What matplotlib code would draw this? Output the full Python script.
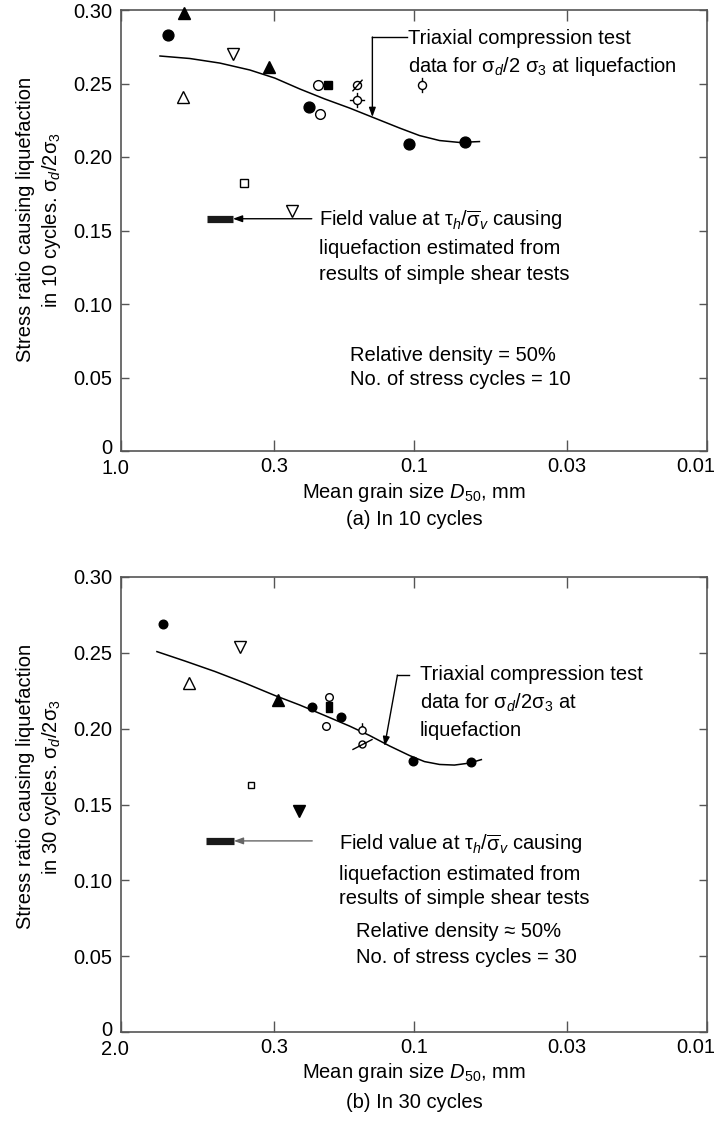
import matplotlib
matplotlib.use('Agg')
import matplotlib.pyplot as plt
from matplotlib.path import Path
from matplotlib.ticker import NullLocator
from matplotlib.transforms import ScaledTranslation

plt.rcParams['font.family'] = ['Liberation Sans', 'DejaVu Sans']
plt.rcParams['mathtext.fontset'] = 'custom'
plt.rcParams['mathtext.rm'] = 'Liberation Sans'
plt.rcParams['mathtext.it'] = 'Liberation Sans:italic'
plt.rcParams['mathtext.bf'] = 'Liberation Sans:bold'
FS = 14.5

# ---------------- data: panel (a) 10 cycles ----------------
a_curve_x = [0.736, 0.582, 0.460, 0.3635, 0.2987, 0.2455, 0.2018, 0.1659, 0.1363, 0.1120, 0.0958, 0.0818, 0.0700, 0.0598]
a_curve_y = [0.2687, 0.2670, 0.2639, 0.2592, 0.2537, 0.2463, 0.2395, 0.2333, 0.2265, 0.2197, 0.2146, 0.2112, 0.2099, 0.2105]
a_filled_circle_x = [0.69, 0.229, 0.104, 0.0668]
a_filled_circle_y = [0.283, 0.234, 0.209, 0.210]
a_filled_tri_x = [0.609, 0.312]
a_filled_tri_y = [0.298, 0.261]
a_open_tri_x = [0.614]
a_open_tri_y = [0.241]
a_open_tridown_x = [0.414, 0.261]
a_open_tridown_y = [0.270, 0.163]
a_open_circle_x = [0.212, 0.209]
a_open_circle_y = [0.249, 0.229]
a_filled_square_x = [0.196]
a_filled_square_y = [0.249]
a_open_square_x = [0.381]
a_open_square_y = [0.182]
a_slash_circle_x = [0.157]
a_slash_circle_y = [0.249]
a_cross_circle_x = [0.157]
a_cross_circle_y = [0.239]
a_vtick_circle_x = [0.0938]
a_vtick_circle_y = [0.249]
a_field_x = [0.509, 0.415]
a_field_y = 0.158

# ---------------- data: panel (b) 30 cycles ----------------
b_curve_x = [0.754, 0.605, 0.478, 0.378, 0.2987, 0.2455, 0.2018, 0.1659, 0.1418, 0.1212, 0.1036, 0.0921, 0.0818, 0.0728, 0.0647, 0.0589]
b_curve_y = [0.2508, 0.2446, 0.2377, 0.2301, 0.2219, 0.2156, 0.2087, 0.2017, 0.1955, 0.1886, 0.1823, 0.1783, 0.1764, 0.1760, 0.1773, 0.1796]
b_filled_circle_x = [0.721, 0.223, 0.177, 0.101, 0.0637]
b_filled_circle_y = [0.269, 0.214, 0.208, 0.179, 0.178]
b_filled_tri_x = [0.292]
b_filled_tri_y = [0.219]
b_open_tri_x = [0.585]
b_open_tri_y = [0.230]
b_open_tridown_x = [0.393]
b_open_tridown_y = [0.254]
b_filled_tridown_x = [0.247]
b_filled_tridown_y = [0.146]
b_open_circle_x = [0.195, 0.199]
b_open_circle_y = [0.221, 0.202]
b_filled_rect_x = [0.195]
b_filled_rect_y = [0.214]
b_open_square_x = [0.361]
b_open_square_y = [0.163]
b_tick_circle_x = [0.150]
b_tick_circle_y = [0.199]
b_slash_circle_x = [0.151]
b_slash_circle_y = [0.190]
b_field_x = [0.511, 0.412]
b_field_y = 0.126

x_tick_pos = [1.0, 0.3, 0.1, 0.03, 0.01]
a_x_tick_labels = ['1.0', '0.3', '0.1', '0.03', '0.01']
b_x_tick_labels = ['2.0', '0.3', '0.1', '0.03', '0.01']
y_tick_pos = [0, 0.05, 0.10, 0.15, 0.20, 0.25, 0.30]
y_tick_labels = ['0', '0.05', '0.10', '0.15', '0.20', '0.25', '0.30']


def circ_with(lines):
    c = Path.unit_circle()
    verts = list(c.vertices)
    codes = list(c.codes)
    for (x0, y0), (x1, y1) in lines:
        verts += [(x0, y0), (x1, y1)]
        codes += [Path.MOVETO, Path.LINETO]
    return Path(verts, codes)


slash_a = circ_with([((-1.25, -1.45), (1.25, 1.45))])
cross_a = circ_with([((0, 1), (0, 1.9)), ((0, -1), (0, -1.9)), ((1, 0), (1.9, 0)), ((-1, 0), (-1.9, 0))])
vtick_a = circ_with([((0, 1), (0, 1.9)), ((0, -1), (0, -1.9))])
tick_b = circ_with([((0, 1), (0, 2.0))])
slash_b = circ_with([((-2.9, -1.5), (2.9, 1.5))])
tall_rect = Path([(-0.3, -0.5), (0.3, -0.5), (0.3, 0.5), (-0.3, 0.5), (-0.3, -0.5)],
                 [Path.MOVETO, Path.LINETO, Path.LINETO, Path.LINETO, Path.CLOSEPOLY])

fig = plt.figure(figsize=(7.22, 11.22), dpi=100)
W, H = 722.0, 1122.0


def make_axes(left, right, top, bottom):
    return fig.add_axes([left / W, 1 - bottom / H, (right - left) / W, (bottom - top) / H])


axA = make_axes(121, 707, 10, 451)
axB = make_axes(121, 707, 577, 1032)

SP = '#555555'


def shift(label, dx_px, dy_px):
    label.set_transform(label.get_transform() +
                        ScaledTranslation(dx_px / 100.0, dy_px / 100.0, fig.dpi_scale_trans))


def style(ax, xlabels, ylab, lab_y, h):
    ax.set_xscale('log')
    ax.set_xlim(1.0, 0.01)
    ax.set_ylim(0, 0.30)
    ax.set_xticks(x_tick_pos)
    ax.set_xticklabels(xlabels)
    ax.xaxis.set_minor_locator(NullLocator())
    ax.set_yticks(y_tick_pos)
    ax.set_yticklabels(y_tick_labels)
    for s in ax.spines.values():
        s.set_color(SP)
        s.set_linewidth(1.2)
    ax.tick_params(axis='x', direction='in', top=True, length=8, width=1, color=SP,
                   labelsize=FS, pad=4, labelcolor='black')
    ax.tick_params(axis='y', direction='in', right=True, length=6, width=1, color=SP,
                   labelsize=FS, pad=6, labelcolor='black')
    labs = ax.get_xticklabels()
    shift(labs[0], -6, -2)
    shift(labs[-1], -11, 0)
    shift(ax.get_yticklabels()[0], 0, 4)
    ax.set_xlabel('Mean grain size $D_{50}$, mm', fontsize=FS)
    ax.xaxis.label.set_va('center')
    ax.xaxis.set_label_coords(0.5, -41.0 / h)
    ax.set_ylabel(ylab, fontsize=FS, linespacing=1.3)
    ax.yaxis.label.set_va('center')
    ax.yaxis.set_label_coords(-0.139, lab_y)


def pts(ax, x, y, marker, ms, filled, mew=1.0):
    ax.plot(x, y, linestyle='none', marker=marker, ms=ms,
            mfc='black' if filled else 'white', mec='black', mew=mew,
            clip_on=False, zorder=4)


style(axA, a_x_tick_labels,
      'Stress ratio causing liquefaction\nin 10 cycles. $\\mathrm{σ}_d/2\\mathrm{σ}_3$', 0.524, 441.0)
style(axB, b_x_tick_labels,
      'Stress ratio causing liquefaction\nin 30 cycles. $\\mathrm{σ}_d/2\\mathrm{σ}_3$', 0.539, 455.0)

ARW = dict(arrowstyle='-|>,head_length=0.55,head_width=0.2', color='black',
           lw=1.0, shrinkA=0, shrinkB=0)

# ---- panel (a) ----
axA.plot(a_curve_x, a_curve_y, color='black', lw=1.1, zorder=2)
pts(axA, a_filled_circle_x, a_filled_circle_y, 'o', 7.8, True)
pts(axA, a_filled_tri_x, a_filled_tri_y, '^', 9, True)
pts(axA, a_open_tri_x, a_open_tri_y, '^', 8.5, False)
pts(axA, a_open_tridown_x, a_open_tridown_y, 'v', 8.5, False)
pts(axA, a_open_circle_x, a_open_circle_y, 'o', 7, False)
pts(axA, a_filled_square_x, a_filled_square_y, 's', 5.5, True)
pts(axA, a_open_square_x, a_open_square_y, 's', 5.2, False)
pts(axA, a_slash_circle_x, a_slash_circle_y, slash_a, 8.4, False)
pts(axA, a_cross_circle_x, a_cross_circle_y, cross_a, 11, False)
pts(axA, a_vtick_circle_x, a_vtick_circle_y, vtick_a, 11, False)
axA.plot(a_field_x, [a_field_y] * 2, color='#1a1a1a', lw=5.2, solid_capstyle='butt', zorder=3)
axA.annotate('', xy=(a_field_x[1], a_field_y), xytext=(0.2233, a_field_y), arrowprops=ARW)
axA.plot([0.1059, 0.1387], [0.2816, 0.2816], color='black', lw=1.0)
axA.annotate('', xy=(0.1387, 0.2272), xytext=(0.1387, 0.2816), arrowprops=ARW)
axA.text(0.1051, 0.2769, 'Triaxial compression test', fontsize=FS, va='baseline')
axA.text(0.1051, 0.2578, 'data for $\\mathrm{σ}_d/2\\ \\mathrm{σ}_3$ at liquefaction', fontsize=FS, va='baseline')
axA.text(0.2115, 0.1531, 'Field value at $\\mathrm{τ}_h/\\overline{\\mathrm{σ}}_v$ causing', fontsize=FS, va='baseline')
axA.text(0.2115, 0.1340, 'liquefaction estimated from', fontsize=FS, va='baseline')
axA.text(0.2115, 0.1163, 'results of simple shear tests', fontsize=FS, va='baseline')
axA.text(0.166, 0.0612, 'Relative density = 50%', fontsize=FS, va='baseline')
axA.text(0.166, 0.0449, 'No. of stress cycles = 10', fontsize=FS, va='baseline')

# ---- panel (b) ----
axB.plot(b_curve_x, b_curve_y, color='black', lw=1.1, zorder=2)
pts(axB, b_filled_circle_x, b_filled_circle_y, 'o', 6.2, True)
pts(axB, b_filled_tri_x, b_filled_tri_y, '^', 8.5, True)
pts(axB, b_open_tri_x, b_open_tri_y, '^', 8.5, False)
pts(axB, b_open_tridown_x, b_open_tridown_y, 'v', 8.5, False)
pts(axB, b_filled_tridown_x, b_filled_tridown_y, 'v', 8.5, True)
pts(axB, b_open_circle_x, b_open_circle_y, 'o', 5.5, False)
pts(axB, b_filled_rect_x, b_filled_rect_y, tall_rect, 7.2, True)
pts(axB, b_open_square_x, b_open_square_y, 's', 5.0, False)
pts(axB, b_tick_circle_x, b_tick_circle_y, tick_b, 10.5, False)
pts(axB, b_slash_circle_x, b_slash_circle_y, slash_b, 14.6, False)
axB.plot(b_field_x, [b_field_y] * 2, color='#1a1a1a', lw=5.2, solid_capstyle='butt', zorder=3)
ARW_G = dict(ARW, color='#666666')
axB.annotate('', xy=(b_field_x[1], b_field_y), xytext=(0.2225, b_field_y), arrowprops=ARW_G)
axB.plot([0.1043, 0.1139], [0.2353, 0.2353], color='black', lw=1.0)
axB.annotate('', xy=(0.126, 0.1885), xytext=(0.1139, 0.2353), arrowprops=ARW)
axB.text(0.0957, 0.2320, 'Triaxial compression test', fontsize=FS, va='baseline')
axB.text(0.0957, 0.2131, 'data for $\\mathrm{σ}_d/2\\mathrm{σ}_3$ at', fontsize=FS, va='baseline')
axB.text(0.0957, 0.1951, 'liquefaction', fontsize=FS, va='baseline')
axB.text(0.181, 0.1200, 'Field value at $\\mathrm{τ}_h/\\overline{\\mathrm{σ}}_v$ causing', fontsize=FS, va='baseline')
axB.text(0.181, 0.1002, 'liquefaction estimated from', fontsize=FS, va='baseline')
axB.text(0.181, 0.0844, 'results of simple shear tests', fontsize=FS, va='baseline')
axB.text(0.158, 0.0626, 'Relative density ≈ 50%', fontsize=FS, va='baseline')
axB.text(0.158, 0.0455, 'No. of stress cycles = 30', fontsize=FS, va='baseline')

fig.text(414 / W, 1 - 520 / H, '(a) In 10 cycles', ha='center', va='center', fontsize=FS)
fig.text(414 / W, 1 - 1102 / H, '(b) In 30 cycles', ha='center', va='center', fontsize=FS)

fig.savefig('out.png', dpi=100)
